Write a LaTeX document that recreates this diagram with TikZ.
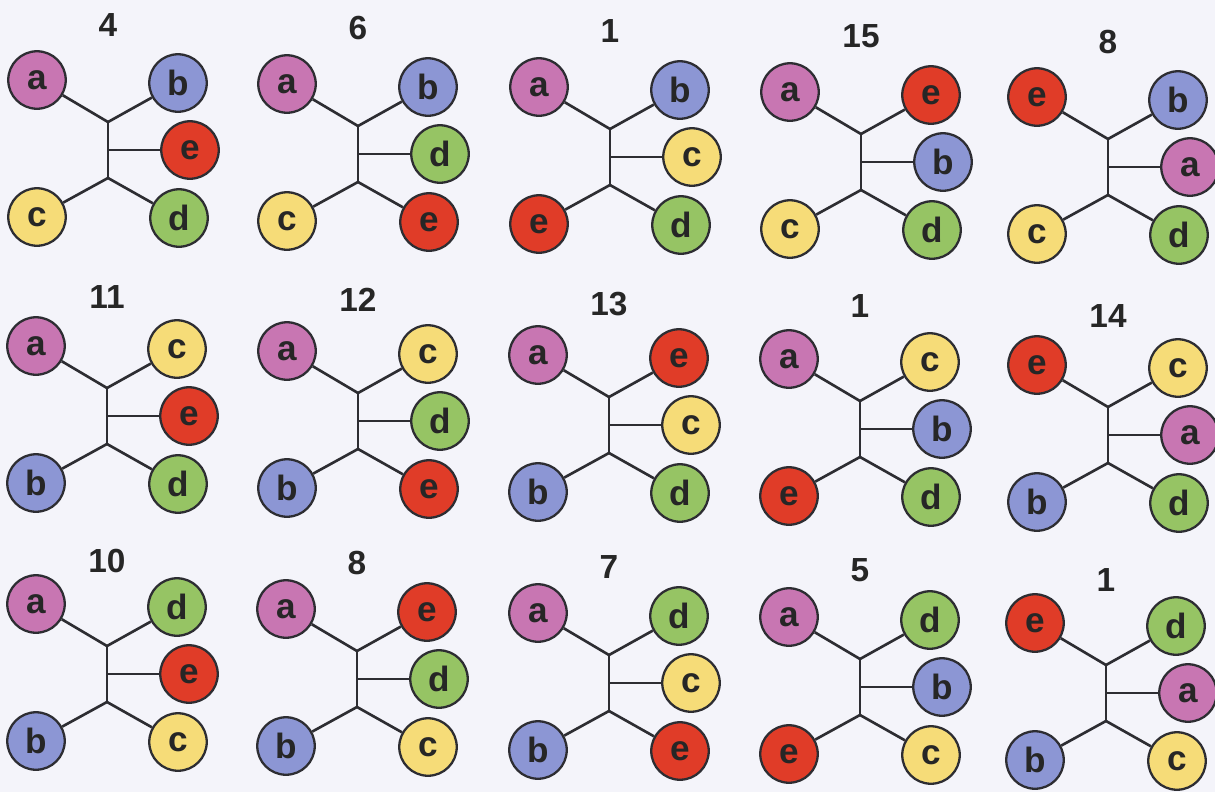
\documentclass[tikz,border=0pt]{standalone}
\usepackage{fontspec}
\setmainfont{Liberation Sans}
\usetikzlibrary{positioning}
\definecolor{paper}{RGB}{244,244,250}
\definecolor{branch}{RGB}{45,45,50}
\definecolor{taxa}{RGB}{200,118,178}
\definecolor{taxb}{RGB}{140,150,212}
\definecolor{taxc}{RGB}{246,220,120}
\definecolor{taxd}{RGB}{150,196,100}
\definecolor{taxe}{RGB}{224,60,40}

\begin{document}
\begin{tikzpicture}[x=0.02cm,y=-0.02cm,
  leaf/.style={circle,draw=branch,line width=1.3pt,minimum size=1.15cm,inner sep=0pt,
               font=\fontsize{20}{20}\selectfont\bfseries,text=black!85},
  count/.style={font=\fontsize{19}{19}\selectfont\bfseries,text=black!85},
  edge/.style={line width=1.5pt,branch}]
\fill[paper] (0,0) rectangle (1215,792);
\useasboundingbox (0,0) rectangle (1215,792);
% trees: centre / label y / number / upper left, upper right, right, lower left, lower right
\foreach \cx/\cy/\ly/\num/\p/\q/\r/\s/\t [count=\i] in {
    108/150/25/4/a/b/e/c/d,    358/154/28/6/a/b/d/c/e,    610/157/31/1/a/b/c/e/d,
    861/162/36/15/a/e/b/c/d,   1108/167/42/8/e/b/a/c/d,
    107/416/297/11/a/c/e/b/d,  358/421/300/12/a/c/d/b/e,  609/425/304/13/a/e/c/b/d,
    860/429/306/1/a/c/b/e/d,   1108/435/316/14/e/c/a/b/d,
    107/674/561/10/a/d/e/b/c,  357/679/563/8/a/e/d/b/c,   609/683/567/7/a/d/c/b/e,
    860/687/570/5/a/d/b/e/c,   1106/693/580/1/e/d/a/b/c} {
  \node[count] (n\i) at (\cx,\ly) {\num};
  \coordinate (tr\i-u) at (\cx,{\cy-28});
  \coordinate (tr\i-m) at (\cx,\cy);
  \coordinate (tr\i-l) at (\cx,{\cy+28});
  \node[leaf,fill=tax\p] (tr\i-\p) at ({\cx-71},{\cy-70}) {\p};
  \node[leaf,fill=tax\q] (tr\i-\q) at ({\cx+70},{\cy-67}) {\q};
  \node[leaf,fill=tax\r] (tr\i-\r) at ({\cx+82},\cy)      {\r};
  \node[leaf,fill=tax\s] (tr\i-\s) at ({\cx-71},{\cy+67}) {\s};
  \node[leaf,fill=tax\t] (tr\i-\t) at ({\cx+71},{\cy+68}) {\t};
  \draw[edge] (tr\i-\p) -- (tr\i-u) -- (tr\i-\q);
  \draw[edge] (tr\i-u) -- (tr\i-l);
  \draw[edge] (tr\i-m) -- (tr\i-\r);
  \draw[edge] (tr\i-\s) -- (tr\i-l) -- (tr\i-\t);
}
\end{tikzpicture}
\end{document}
